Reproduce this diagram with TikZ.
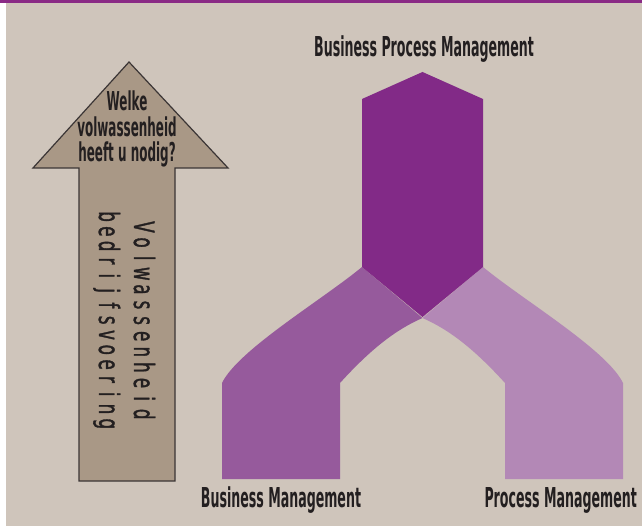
\documentclass[tikz,border=0pt]{standalone}
\usepackage{fontspec}
\newfontfamily\condfont[FakeStretch=0.46]{DejaVu Sans}
\newfontfamily\vertfont[FakeStretch=0.6, FakeBold=1.2]{DejaVu Sans}

% letters of a word set in equal-width cells
\makeatletter
\newcommand\letterrow[2]{\@tfor\ltr:=#2\do{\makebox[#1]{\ltr}}}
\makeatother

\definecolor{paper}{HTML}{CFC5BB}
\definecolor{topbar}{HTML}{8A2A85}
\definecolor{bpm}{HTML}{822A87}
\definecolor{bm}{HTML}{965A9C}
\definecolor{pm}{HTML}{B388B6}
\definecolor{arrowfill}{HTML}{A99886}
\definecolor{arrowline}{HTML}{3B3535}
\definecolor{ink}{HTML}{231F20}

\tikzset{
  title/.style={inner sep=0pt, anchor=base, text=ink,
    font=\condfont\bfseries\fontsize{27.4}{29}\selectfont},
  question/.style={inner sep=0pt, anchor=base, text=ink,
    font=\condfont\bfseries\fontsize{26}{27}\selectfont},
  spine/.style={inner sep=0pt, anchor=base west, rotate=-90, text=ink,
    font=\vertfont\fontsize{28}{29}\selectfont},
}

\begin{document}
\begin{tikzpicture}[x=1pt, y=-1pt]
  \useasboundingbox (0,0) rectangle (642,526);
  % page ground
  \fill[white] (0,0) rectangle (642,526);
  \fill[paper] (6,3) rectangle (642,526);
  \fill[topbar] (0,0) rectangle (642,3);

  % upward arrow
  \filldraw[fill=arrowfill, draw=arrowline, line width=1.2pt, line join=miter]
    (129,62) -- (228,168) -- (175,168) -- (175,481) -- (79,481) -- (79,168) -- (33,168) -- cycle;

  \node[question] (q1) at (127,110.5) {Welke};
  \node[question] (q2) at (127,136.5) {volwassenheid};
  \node[question] (q3) at (127,161.5) {heeft u nodig?};

  \node[spine] (s1) at (134,219) {\letterrow{15.6pt}{Volwassenheid}};
  \node[spine] (s2) at (99,209) {\letterrow{14.8pt}{bedrijfsvoering}};

  % left branch
  \fill[bm] (362,267) -- (422.5,318)
    .. controls (395,330) and (370,350) .. (340,383)
    -- (340,479) -- (222,479) -- (222,383)
    .. controls (238,350) and (322,300) .. (362,267) -- cycle;
  % right branch
  \fill[pm] (483,267) -- (422.5,318)
    .. controls (450,330) and (475,350) .. (505,383)
    -- (505,479) -- (623,479) -- (623,383)
    .. controls (607,350) and (523,300) .. (483,267) -- cycle;
  % joined trunk
  \fill[bpm] (362,99) -- (422.5,72) -- (483,99) -- (483,267) -- (422.5,317) -- (362,267) -- cycle;

  \node[title] (bpmlabel) at (424,57) {Business Process Management};
  \node[title] (bmlabel) at (281,507) {Business Management};
  \node[title, anchor=base east] (pmlabel) at (637,507) {Process Management};
\end{tikzpicture}
\end{document}
